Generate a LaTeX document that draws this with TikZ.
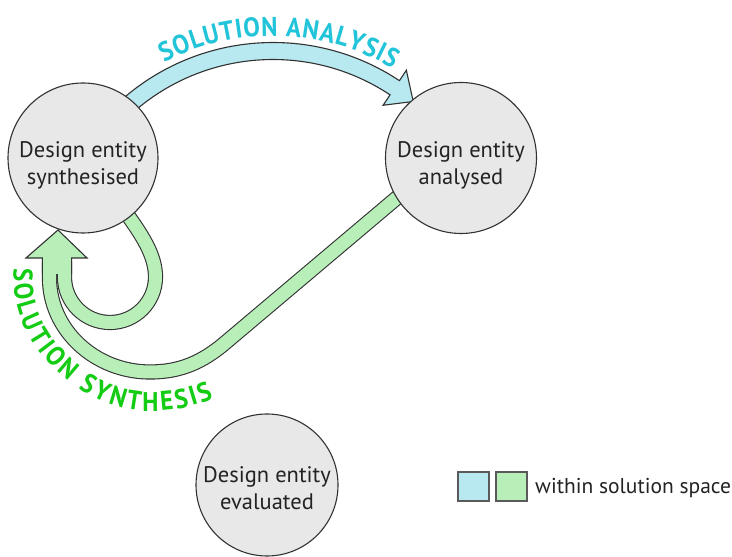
\documentclass[tikz,border=0pt]{standalone}
\usepackage{fontspec}
\setmainfont{PT Sans}
\newfontfamily\lblfam[FakeStretch=0.92]{PT Sans}
\usetikzlibrary{calc,decorations.text}
\definecolor{outl}{RGB}{50,50,50}
\definecolor{circfill}{RGB}{232,232,232}
\definecolor{bluefill}{RGB}{184,232,240}
\definecolor{greenfill}{RGB}{184,238,184}
\definecolor{bluetext}{RGB}{34,196,218}
\definecolor{greentext}{RGB}{20,204,20}
\definecolor{bodytext}{RGB}{35,35,35}
\definecolor{legendline}{RGB}{90,90,90}
\newcommand\lblfont{\lblfam\bfseries\fontsize{27}{27}\selectfont}
\begin{document}
\begin{tikzpicture}[x=1pt,y=1pt,
  entity/.style={circle, draw=outl, line width=1.1pt, fill=circfill, minimum size=#1, inner sep=0pt},
  entitytext/.style={align=center, text=bodytext, font=\fontsize{22.5}{27}\selectfont, inner sep=0pt},
  gband/.style={draw=outl, line width=1.1pt, double=greenfill, double distance=13pt, line cap=butt},
  outline/.style={draw=outl, line width=1.1pt, line join=miter},
  legendbox/.style={draw=legendline, line width=1.8pt, minimum width=31pt, minimum height=29pt, inner sep=0pt}]
\useasboundingbox (0,0) rectangle (732,557);
\fill[white] (0,0) rectangle (732,557);

% ---- blue band: solution analysis
\coordinate (bc) at (273,286);
\path[fill=bluefill, outline] ($(bc)+(135:228.5)$) arc[start angle=135,end angle=56.4,radius=228.5]
  -- ($(bc)+(56.4:241)$) -- ($(bc)+(50.4:220)$) -- ($(bc)+(56.4:199)$)
  -- ($(bc)+(56.4:211.5)$) arc[start angle=56.4,end angle=135,radius=211.5] -- cycle;

% ---- green bands: solution synthesis
\coordinate (gmA) at (49.5,295);
\coordinate (gmB) at (405,366);
\coordinate (glA) at (64.5,295);
\coordinate (glB) at (124,347);
\draw[gband] (gmA) -- (49.5,279) .. controls (49.5,227) and (95,185) .. (150,185)
  .. controls (180,185) and (202,194.6) .. (225,214) -- (gmB);
\draw[gband] (glA) -- (64.5,280) arc[start angle=180,end angle=360,radius=45.5]
  .. controls (155.5,302) and (142,322) .. (glB);
\fill[greenfill] (42.4,283) -- (42.4,299) -- (26,299) -- (58,327) -- (87,299) -- (71.6,299) -- (71.6,283) -- cycle;
\draw[outline] (42.4,283) -- (42.4,299) -- (26,299) -- (58,327) -- (87,299) -- (71.6,299) -- (71.6,283);

% ---- entities
\node[entity=150pt] (syn) at (83,399) {};
\node[entity=151pt] (ana) at (461,399) {};
\node[entity=142pt] (eva) at (267,72) {};
\node[entitytext] (synT) at (83,391.5) {Design entity\\synthesised};
\node[entitytext] (anaT) at (461,391.5) {Design entity\\analysed};
\node[entitytext] (evaT) at (267,69) {Design entity\\evaluated};

% ---- labels along the bands
\path[decorate, decoration={text along path, text align=center,
   text={|\lblfont\color{bluetext}|S{\kern0.8pt}O{\kern0.8pt}L{\kern0.8pt}U{\kern0.8pt}T{\kern0.8pt}I{\kern0.8pt}O{\kern0.8pt}N{\kern0.8pt} {\kern0.8pt}A{\kern0.8pt}N{\kern0.8pt}A{\kern0.8pt}L{\kern0.8pt}Y{\kern0.8pt}S{\kern0.8pt}I{\kern0.8pt}S}}]
  ($(bc)+(125:235)$) arc[start angle=125,end angle=52,radius=235];
\path[decorate, decoration={text along path,
   text={|\lblfont\color{greentext}|S{\kern2.6pt}O{\kern2.6pt}L{\kern2.6pt}U{\kern2.6pt}T{\kern2.6pt}I{\kern2.6pt}O{\kern2.6pt}N{\kern2.6pt} {\kern2.6pt}S{\kern2.6pt}Y{\kern2.6pt}N{\kern2.6pt}T{\kern2.6pt}H{\kern2.6pt}E{\kern2.6pt}S{\kern2.6pt}I{\kern2.6pt}S}}]
  (13.5,288) -- (13.5,279) .. controls (13.5,207) and (85,146) .. (150,146)
  .. controls (185,146) and (210,154) .. (250,178);

% ---- legend
\node[legendbox, fill=bluefill] (lgA) at (473.5,70.5) {};
\node[legendbox, fill=greenfill] (lgB) at (511.5,70.5) {};
\node[anchor=base west, inner sep=0pt, text=bodytext, font=\fontsize{21.5}{26}\selectfont] (lgT) at (535,63) {within solution space};
\end{tikzpicture}
\end{document}
